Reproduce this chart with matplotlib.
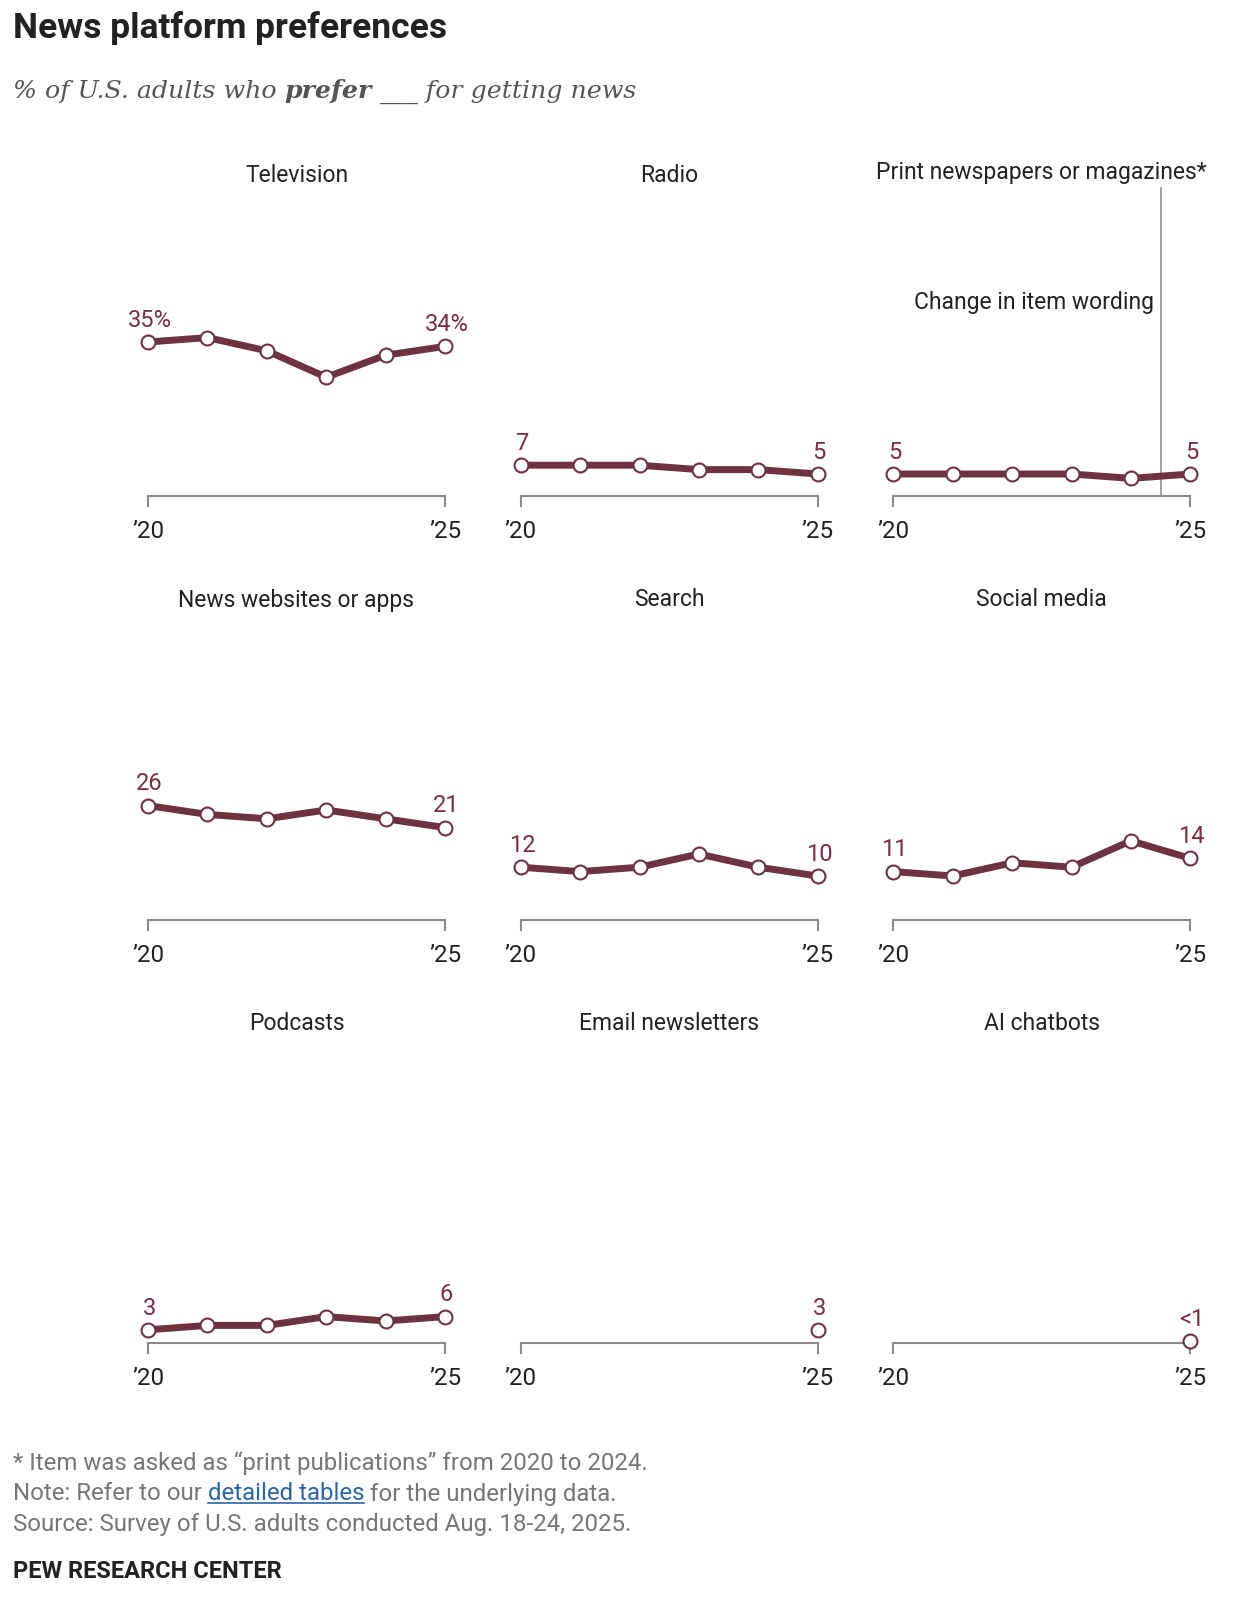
import numpy as np
import matplotlib
matplotlib.use("Agg")
import matplotlib.pyplot as plt
from matplotlib.lines import Line2D

# data -------------------------------------------------
years = [2020, 2021, 2022, 2023, 2024, 2025]
nan = np.nan

titles = ["Television", "Radio", "Print newspapers or magazines*",
          "News websites or apps", "Search", "Social media",
          "Podcasts", "Email newsletters", "AI chatbots"]

television = [35, 36, 33, 27, 32, 34]
radio = [7, 7, 7, 6, 6, 5]
print_pubs = [5, 5, 5, 5, 4, 5]
news_sites = [26, 24, 23, 25, 23, 21]
search = [12, 11, 12, 15, 12, 10]
social_media = [11, 10, 13, 12, 18, 14]
podcasts = [3, 4, 4, 6, 5, 6]
email = [nan, nan, nan, nan, nan, 3]
ai_chatbots = [nan, nan, nan, nan, nan, 0.4]

series = [television, radio, print_pubs, news_sites, search,
          social_media, podcasts, email, ai_chatbots]
first_labels = ["35%", "7", "5", "26", "12", "11", "3", None, None]
last_labels = ["34%", "5", "5", "21", "10", "14", "6", "3", "<1"]
tick_labels = ["\u201920", "\u201925"]

# style ------------------------------------------------
W, H = 1241, 1600
LINE = "#6e3340"
LABEL = "#7a2e3f"
AXIS = "#8a8a8a"
TEXT = "#222222"
NOTE = "#767676"
FONT = "Roboto"
PX_PER_PT = 4.4

plt.rcParams["font.family"] = [FONT, "DejaVu Sans"]

fig = plt.figure(figsize=(W / 100, H / 100), dpi=100)
fig.patch.set_facecolor("white")

col_x = [148, 520.7, 893.3]
row_y = [496, 920, 1343]
panel_w = 297
panel_h = 300

for i, vals in enumerate(series):
    r, c = divmod(i, 3)
    x0, y0 = col_x[c], row_y[r]
    ax = fig.add_axes([x0 / W, 1 - y0 / H, panel_w / W, panel_h / H])
    ax.set_xlim(2020, 2025)
    ax.set_ylim(0, panel_h / PX_PER_PT)
    ax.patch.set_alpha(0)
    for s in ["top", "left", "right"]:
        ax.spines[s].set_visible(False)
    ax.spines["bottom"].set_color(AXIS)
    ax.spines["bottom"].set_linewidth(1.5)
    ax.set_yticks([])
    ax.set_xticks([2020, 2025])
    ax.set_xticklabels(tick_labels)
    ax.tick_params(axis="x", direction="out", length=8, width=1.5,
                   color=AXIS, pad=9, labelsize=17.5, labelcolor=TEXT)

    ax.plot(years, vals, color=LINE, lw=5, solid_capstyle="butt",
            clip_on=False, zorder=2)
    ax.plot(years, vals, "o", ms=10, mfc="white", mec=LINE, mew=1.5,
            clip_on=False, zorder=3)

    if first_labels[i] is not None:
        ax.annotate(first_labels[i], (years[0], vals[0]), xytext=(1, 11),
                    textcoords="offset points", ha="center", va="baseline",
                    color=LABEL, fontsize=17)
    ax.annotate(last_labels[i], (years[-1], vals[-1]), xytext=(1, 11),
                textcoords="offset points", ha="center", va="baseline",
                color=LABEL, fontsize=17)

    ty = y0 - 320
    if i == 2:
        ty -= 4
    fig.text((x0 + panel_w / 2) / W, 1 - ty / H, titles[i], ha="center",
             va="center", fontsize=16.5, color=TEXT)

    if i == 2:
        top = (y0 - 188) / PX_PER_PT
        ax.plot([2024.5, 2024.5], [0, top], color="#9a9a9a", lw=1.3,
                clip_on=False, zorder=1)
        ax.annotate("Change in item wording", (2024.5, (y0 - 302) / PX_PER_PT),
                    xytext=(-5, 0), textcoords="offset points", ha="right",
                    va="center", fontsize=16.5, color=TEXT)

# headings ---------------------------------------------
fig.text(13 / W, 1 - 28 / H, "News platform preferences", ha="left",
         va="center", fontsize=25.5, fontweight="bold", color=TEXT)

sub_kw = dict(fontsize=18.2, color="#555555", style="italic",
              family=["DejaVu Serif"])
t1 = fig.text(13 / W, 1 - 98 / H, "% of U.S. adults who ", ha="left",
              va="baseline", **sub_kw)
t2 = fig.text(0, 0, "prefer", fontweight="bold", ha="left", va="baseline",
              **sub_kw)
t3 = fig.text(0, 0, " ___ for getting news", ha="left", va="baseline",
              **sub_kw)

note_kw = dict(fontsize=17.3, color=NOTE)
fig.text(13 / W, 1 - 1463 / H, "* Item was asked as \u201cprint publications\u201d from 2020 to 2024.",
         ha="left", va="center", **note_kw)
n1 = fig.text(13 / W, 1 - 1494 / H, "Note: Refer to our ", ha="left",
              va="center", **note_kw)
n2 = fig.text(0, 0, "detailed tables", ha="left", va="center",
              fontsize=17.3, color="#2a64ad")
n3 = fig.text(0, 0, " for the underlying data.", ha="left", va="center",
              **note_kw)
fig.text(13 / W, 1 - 1525 / H, "Source: Survey of U.S. adults conducted Aug. 18-24, 2025.",
         ha="left", va="center", **note_kw)
fig.text(13 / W, 1 - 1571 / H, "PEW RESEARCH CENTER", ha="left", va="center",
         fontsize=17, fontweight="bold", color=TEXT)

# chain the pieces of mixed-style lines
fig.canvas.draw()
rend = fig.canvas.get_renderer()
for prev, nxt in [(t1, t2), (t2, t3), (n1, n2), (n2, n3)]:
    bb = prev.get_window_extent(rend)
    px, py = prev.get_position()
    nxt.set_position((bb.x1 / W, py))
    fig.canvas.draw()

bb = n2.get_window_extent(rend)
uy = (bb.y0 + 3) / H
fig.add_artist(Line2D([bb.x0 / W, bb.x1 / W], [uy, uy], color="#2a64ad",
                      lw=1.2, transform=fig.transFigure))

fig.savefig("out.png", dpi=100, facecolor="white")
